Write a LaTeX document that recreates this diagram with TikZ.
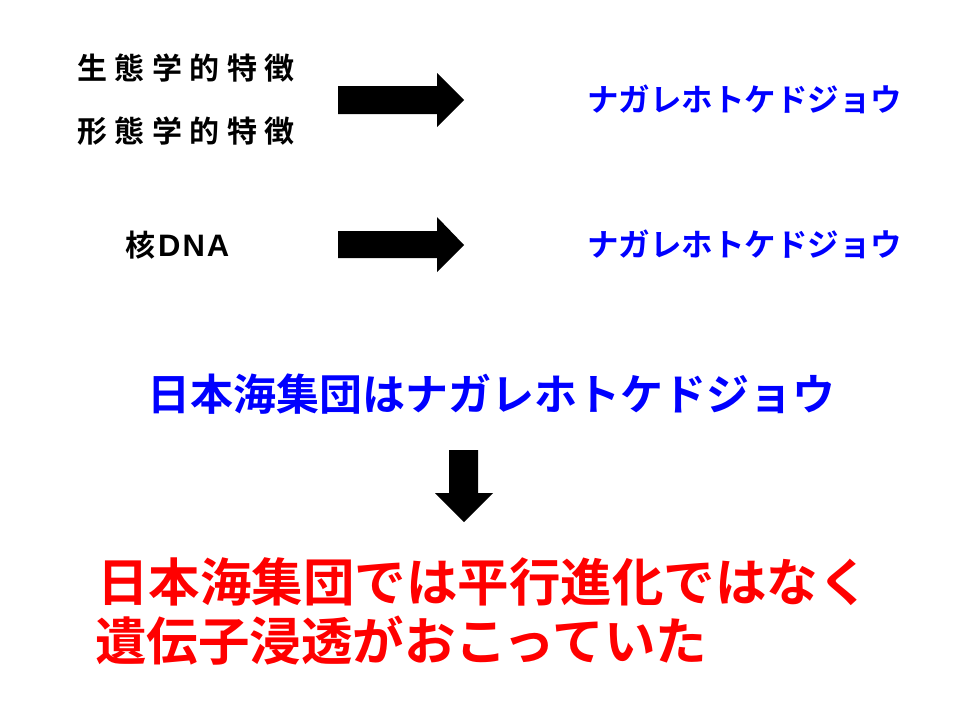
\documentclass[tikz,border=0pt]{standalone}
\usepackage{fontspec}
\setmainfont{Noto Sans CJK JP Bold}
\newfontfamily\jpb{Noto Sans CJK JP Bold}
\newfontfamily\latb{Liberation Sans Bold}
\begin{document}
\begin{tikzpicture}[x=1pt,y=-1pt,
  lbl/.style={anchor=west,inner sep=0pt,font=\jpb\fontsize{30}{30}\selectfont},
  sp/.style={anchor=west,inner sep=0pt,text=blue,font=\jpb\fontsize{31.5}{31.5}\selectfont},
  title/.style={anchor=west,inner sep=0pt,text=blue,font=\jpb\fontsize{43}{43}\selectfont},
  concl/.style={anchor=west,inner sep=0pt,text=red,font=\jpb\fontsize{51.5}{51.5}\selectfont},
  bigarrow/.style={fill=black,draw=none}]
\useasboundingbox (0,0) rectangle (960,720);
\def\g{\hspace{7.5pt}}
\def\h{\hspace{2pt}}
\node[lbl] (eco) at (77,68) {生\g 態\g 学\g 的\g 特\g 徴};
\node[lbl] (morph) at (77,131) {形\g 態\g 学\g 的\g 特\g 徴};
\node[lbl] (dna) at (125,245) {核\hspace{3pt}{\latb\fontsize{31}{31}\selectfont D\h N\h A}};
\node[sp] (sp1) at (587,99) {ナガレホトケドジョウ};
\node[sp] (sp2) at (587,244) {ナガレホトケドジョウ};
\node[title] (ttl) at (147,394) {日本海集団はナガレホトケドジョウ};
\node[concl] (c1) at (97,582) {日本海集団では平行進化ではなく};
\node[concl] (c2) at (95,641) {遺伝子浸透がおこっていた};
\fill[bigarrow] (338,86) -- (437,86) -- (437,73) -- (464,100) -- (437,127) -- (437,114) -- (338,114) -- cycle;
\fill[bigarrow] (338,231) -- (437,231) -- (437,217) -- (464,245) -- (437,272) -- (437,258) -- (338,258) -- cycle;
\fill[bigarrow] (449,450) -- (478,450) -- (478,493) -- (493,493) -- (464,522) -- (435,493) -- (449,493) -- cycle;
\end{tikzpicture}
\end{document}
